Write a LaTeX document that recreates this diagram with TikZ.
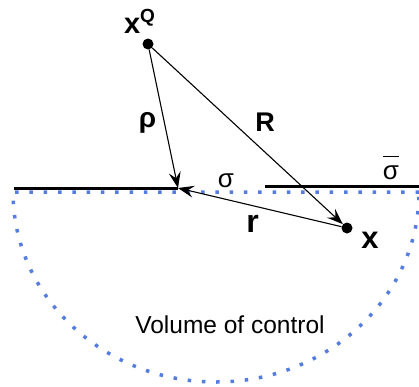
\documentclass[tikz,border=0pt]{standalone}
\usepackage{fontspec}
\setmainfont{Liberation Sans}
\usetikzlibrary{arrows.meta}

\definecolor{ctrlblue}{RGB}{85,125,225}
\newcommand{\barsig}{\vbox{\hrule height 1.4pt\kern 8.5pt\hbox{σ}}}

\tikzset{
  pointdot/.style={circle, fill=black, inner sep=0pt, minimum size=11pt},
  vec/.style={-{Stealth[length=16pt,width=12pt,inset=6pt]}, line width=1.1pt},
  lbl/.style={inner sep=0pt, font=\fontsize{28}{28}\selectfont\bfseries},
  sig/.style={inner sep=0pt, font=\fontsize{26}{26}\selectfont},
  surf/.style={line width=3pt},
  ctrl/.style={draw=ctrlblue, line width=3.5pt, dash pattern=on 3.5pt off 10.8pt}
}

\begin{document}
\begin{tikzpicture}[x=1pt,y=-1pt]
	\useasboundingbox (0,0) rectangle (419,386);
	
	\coordinate (P) at (178,188);
	\node[pointdot] (xQ) at (148,44) {};
	\node[pointdot] (x) at (347,228) {};
	
	% Surface
	\draw[surf] (14,188) -- (P);
	\draw[surf] (265,186) -- (419,186);
	
	% Volume of control
	\draw[ctrl] (419,192) -- (13,192)
		arc[start angle=180, end angle=360, x radius=203pt, y radius=190pt];
	
	% Vectors
	\draw[vec] (xQ) -- (P);
	\draw[vec] (xQ) -- (x);
	\draw[vec] (x) -- (P);
	
	% Labels
	\node[lbl, font=\fontsize{29}{29}\selectfont\bfseries] (xQlbl) at (139.5,21) {x\raisebox{11pt}{\fontsize{19}{19}\selectfont Q}};
	\node[lbl, font=\fontsize{28}{28}\selectfont\bfseries] (rholbl) at (147.5,123) {ρ};
	\node[lbl, font=\fontsize{27}{27}\selectfont\bfseries] (Rlbl) at (265,122.5) {R};
	\node[lbl, font=\fontsize{32}{32}\selectfont\bfseries] (rlbl) at (252.5,224) {r};
	\node[lbl, font=\fontsize{31}{31}\selectfont\bfseries] (xlbl) at (370,240) {x};
	\node[sig] (siglbl) at (226,180.5) {σ};
	\node[sig] (sigbarlbl) at (391,168) {\barsig};
	\node[inner sep=0pt, font=\fontsize{24.5}{24.5}\selectfont] (vol) at (230,325) {Volume of control};
	
\end{tikzpicture}
\end{document}
